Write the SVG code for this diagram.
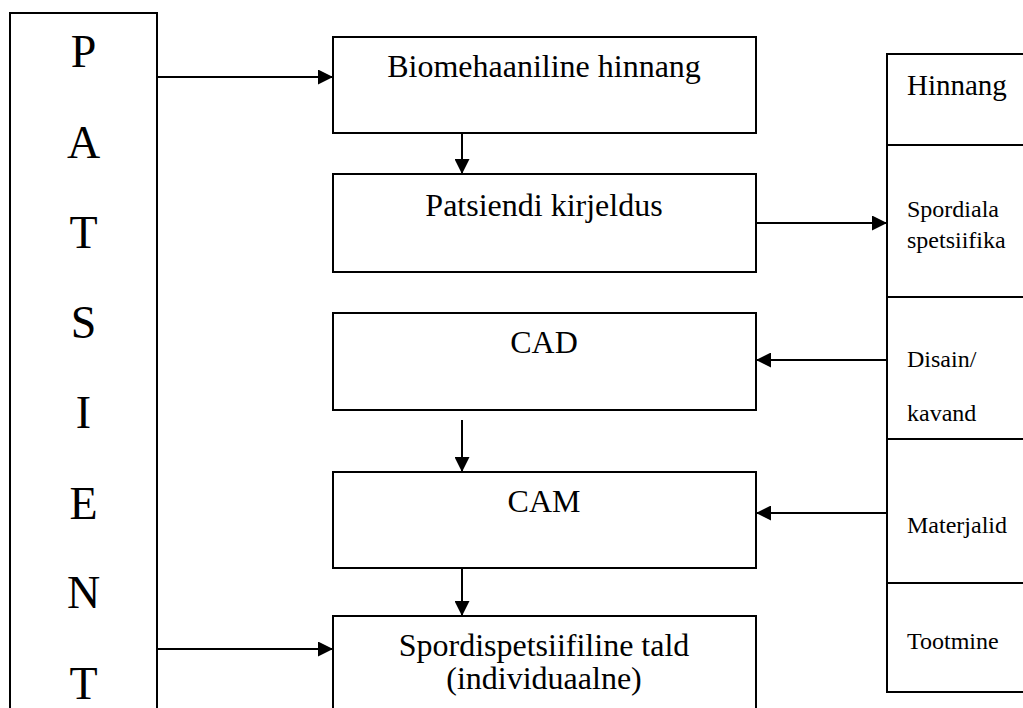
<svg xmlns="http://www.w3.org/2000/svg" width="1023" height="708" viewBox="0 0 1023 708">
<style>
  .box { fill: #ffffff; stroke: #000000; stroke-width: 2; }
  .ln { stroke: #000000; stroke-width: 2; fill: none; }
  text { font-family: 'Liberation Serif', 'DejaVu Serif', serif; fill: #000000; }
  .main { font-size: 32px; text-anchor: middle; }
  .big { font-size: 46px; text-anchor: middle; }
  .side { font-size: 24px; }
  .side2 { font-size: 29px; }
</style>
<defs>
  <marker id="ah" markerWidth="16" markerHeight="15" refX="15" refY="7.5" orient="auto" markerUnits="userSpaceOnUse">
    <path d="M0,0 L15,7.5 L0,15 Z" fill="#000000"/>
  </marker>
</defs>
<rect width="1023" height="708" fill="#ffffff"/>

<g id="patient">
  <rect class="box" x="10" y="13" width="147" height="720"/>
  <text class="big" x="83.5" y="67">P</text>
  <text class="big" x="83.5" y="158">A</text>
  <text class="big" x="83.5" y="248">T</text>
  <text class="big" x="83.5" y="338">S</text>
  <text class="big" x="83.5" y="428">I</text>
  <text class="big" x="83.5" y="519">E</text>
  <text class="big" x="83.5" y="608">N</text>
  <text class="big" x="83.5" y="699">T</text>
</g>

<g id="biomehaaniline">
  <rect class="box" x="333" y="37" width="423" height="96"/>
  <text class="main" x="544" y="77">Biomehaaniline hinnang</text>
</g>
<g id="patsiendi">
  <rect class="box" x="333" y="174" width="423" height="98"/>
  <text class="main" x="544" y="216">Patsiendi kirjeldus</text>
</g>
<g id="cad">
  <rect class="box" x="333" y="313" width="423" height="97"/>
  <text class="main" x="544" y="353">CAD</text>
</g>
<g id="cam">
  <rect class="box" x="333" y="472" width="423" height="96"/>
  <text class="main" x="544" y="512">CAM</text>
</g>
<g id="tald">
  <rect class="box" x="333" y="616" width="423" height="120"/>
  <text class="main" x="544" y="656">Spordispetsiifiline tald</text>
  <text class="main" x="544" y="689">(individuaalne)</text>
</g>

<g id="side-panel">
  <rect class="box" x="887" y="54" width="160" height="638"/>
  <line class="ln" x1="887" y1="145" x2="1023" y2="145"/>
  <line class="ln" x1="887" y1="297" x2="1023" y2="297"/>
  <line class="ln" x1="887" y1="439" x2="1023" y2="439"/>
  <line class="ln" x1="887" y1="583" x2="1023" y2="583"/>
  <text class="side2" x="907" y="95">Hinnang</text>
  <text class="side" x="907" y="217">Spordiala</text>
  <text class="side" x="907" y="248">spetsiifika</text>
  <text class="side" x="907" y="367">Disain/</text>
  <text class="side" x="907" y="421">kavand</text>
  <text class="side" x="907" y="533">Materjalid</text>
  <text class="side" x="907" y="649">Tootmine</text>
</g>

<g id="connectors">
  <line class="ln" x1="157" y1="77" x2="333" y2="77" marker-end="url(#ah)"/>
  <line class="ln" x1="157" y1="649" x2="333" y2="649" marker-end="url(#ah)"/>
  <line class="ln" x1="462" y1="133" x2="462" y2="174" marker-end="url(#ah)"/>
  <line class="ln" x1="462" y1="420" x2="462" y2="472" marker-end="url(#ah)"/>
  <line class="ln" x1="462" y1="568" x2="462" y2="616" marker-end="url(#ah)"/>
  <line class="ln" x1="756" y1="223" x2="887" y2="223" marker-end="url(#ah)"/>
  <line class="ln" x1="887" y1="360" x2="756" y2="360" marker-end="url(#ah)"/>
  <line class="ln" x1="887" y1="513" x2="756" y2="513" marker-end="url(#ah)"/>
</g>
</svg>
